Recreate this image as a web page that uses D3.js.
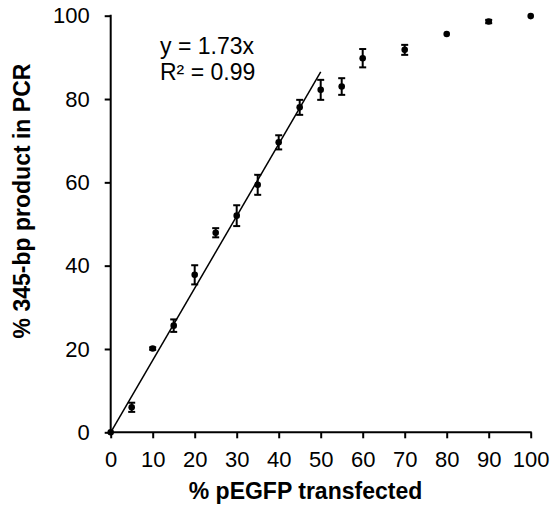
<!DOCTYPE html>
<html>
<head>
<meta charset="utf-8">
<script src="https://cdn.jsdelivr.net/npm/d3@7"></script>
<style>
  html, body { margin: 0; padding: 0; background: #fff; }
  svg { display: block; }
  text { font-family: "Liberation Sans", Arial, sans-serif; fill: #000; }
</style>
</head>
<body>
<svg id="chart" width="553" height="508"></svg>
<script>
// Percent of pEGFP transfected (x) vs percent of 345-bp product in PCR (y)
const transfected = [0, 5, 10, 15, 20, 25, 30, 35, 40, 45, 50, 55, 60, 70, 80, 90, 100];
const product     = [0, 6.0, 20.1, 25.6, 37.8, 47.9, 52.0, 59.4, 69.6, 78.0, 82.2, 83.0, 89.8, 91.8, 95.6, 98.6, 99.9];
const errorBar    = [0, 1.1, 0.3, 1.5, 2.3, 1.1, 2.5, 2.4, 1.7, 1.8, 2.4, 2.0, 2.2, 1.2, 0, 0.4, 0];

// Linear fit through the origin over the 0–50 % range
const slope = 1.73;
const fitRange = [0, 50];
const xTicks = [0, 10, 20, 30, 40, 50, 60, 70, 80, 90, 100];
const yTicks = [0, 20, 40, 60, 80, 100];

const margin = { left: 110.7, top: 15.7 };
const plotW = 420, plotH = 416.6;

const svg = d3.select("#chart");
const g = svg.append("g").attr("transform", `translate(${margin.left},${margin.top})`);

const x = d3.scaleLinear().domain([0, 100]).range([0, plotW]);
const y = d3.scaleLinear().domain([0, 100]).range([plotH, 0]);

// Axes
const xAxis = g.append("g")
  .attr("transform", `translate(0,${plotH})`)
  .call(d3.axisBottom(x).tickValues(xTicks).tickSizeInner(6).tickSizeOuter(0).tickPadding(13.5));
const yAxis = g.append("g")
  .call(d3.axisLeft(y).tickValues(yTicks).tickSizeInner(6).tickSizeOuter(0).tickPadding(15));

[xAxis, yAxis].forEach(ax => {
  ax.select(".domain").attr("stroke", "#000").attr("stroke-width", 2);
  ax.selectAll(".tick line").attr("stroke", "#000").attr("stroke-width", 2);
  ax.selectAll(".tick text")
    .style("font-family", '"Liberation Sans", Arial, sans-serif')
    .style("font-size", "22px")
    .attr("fill", "#000");
});
// extend domain lines over the line caps at the corner
xAxis.select(".domain").attr("d", `M-1,0H${plotW + 1}`);
yAxis.select(".domain").attr("d", `M0,${plotH + 1}V-1`);

// Trend line
g.append("line")
  .attr("x1", x(fitRange[0])).attr("y1", y(slope * fitRange[0]))
  .attr("x2", x(fitRange[1])).attr("y2", y(slope * fitRange[1]))
  .attr("stroke", "#000").attr("stroke-width", 1.5);

// Error bars
const pts = transfected.map((t, i) => ({ t, p: product[i], e: errorBar[i] }));
const eb = g.append("g").attr("stroke", "#000").attr("stroke-width", 2);
pts.filter(d => d.e > 0).forEach(d => {
  const cx = x(d.t), y1 = y(d.p + d.e), y2 = y(d.p - d.e);
  eb.append("line").attr("x1", cx).attr("x2", cx).attr("y1", y1).attr("y2", y2);
  eb.append("line").attr("x1", cx - 3.5).attr("x2", cx + 3.5).attr("y1", y1).attr("y2", y1);
  eb.append("line").attr("x1", cx - 3.5).attr("x2", cx + 3.5).attr("y1", y2).attr("y2", y2);
});

// Data points
g.append("g").selectAll("circle").data(pts).join("circle")
  .attr("cx", d => x(d.t)).attr("cy", d => y(d.p))
  .attr("r", 3.3).attr("fill", "#000");

// Fit equation
svg.append("text").attr("x", 160).attr("y", 54).style("font-size", "23px").text(`y = ${slope}x`);
svg.append("text").attr("x", 160).attr("y", 80).style("font-size", "23px").text("R² = 0.99");

// Axis titles
svg.append("text")
  .attr("x", 305.5).attr("y", 499)
  .attr("text-anchor", "middle")
  .style("font-size", "23px").style("font-weight", "bold")
  .text("% pEGFP transfected");

svg.append("text")
  .attr("transform", "translate(30,201) rotate(-90)")
  .attr("text-anchor", "middle")
  .style("font-size", "23px").style("font-weight", "bold")
  .text("% 345-bp product in PCR");
</script>
</body>
</html>
